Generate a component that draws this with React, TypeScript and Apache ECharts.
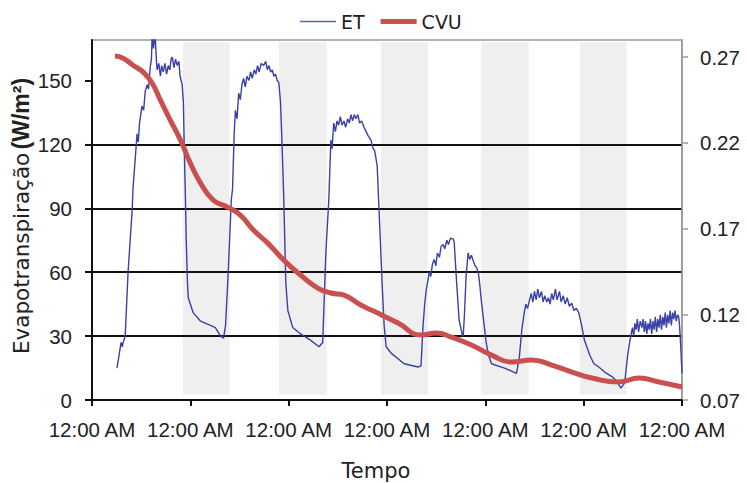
import React, { useEffect, useRef } from "react";
import * as echarts from "echarts";

// X axis in hours since the first midnight
const xTickLabel = "12:00 AM";
const leftTicks = [0, 30, 60, 90, 120, 150];
const rightTicks = [0.07, 0.12, 0.17, 0.22, 0.27];

// shaded (gray) bands, in hours
const shadedBands: [number, number][] = [
  [22.2, 33.6],
  [45.6, 57.3],
  [70.5, 82.0],
  [95.0, 106.6],
  [119.1, 130.5],
];

// ET (W/m²) — [hour, value]
const etPoints: [number, number][] = [
  [6.1, 15], [7.1, 27], [7.4, 25], [7.6, 27], [8.1, 30], [8.8, 60], [9.8, 89], [10.0, 99], [10.5, 112],
  [11.0, 125], [11.3, 121], [11.6, 130], [12.2, 138], [12.6, 136], [13.0, 145], [13.5, 148], [13.8, 146],
  [14.2, 156], [14.5, 160], [14.7, 172], [15.0, 165], [15.4, 172], [15.7, 160], [15.9, 155], [16.3, 158],
  [16.7, 152], [17.0, 157], [17.4, 154], [17.8, 158], [18.2, 153], [18.6, 157], [19.0, 155], [19.3, 160],
  [19.6, 161], [20.0, 156], [20.4, 160], [20.8, 157], [21.2, 159], [21.5, 152], [22.0, 148], [22.3, 140],
  [22.5, 120], [22.8, 95], [23.0, 75], [23.3, 55], [23.5, 48], [24.7, 41], [26.5, 37], [28.9, 35],
  [30.1, 34], [31.4, 30], [32.1, 29], [32.6, 35], [33.3, 62], [34.0, 94], [34.3, 99], [34.7, 125],
  [35.0, 136], [35.4, 132], [35.8, 144], [36.2, 141], [36.6, 148], [37.0, 151], [37.4, 147], [37.8, 152],
  [38.3, 150], [38.7, 154], [39.1, 151], [39.6, 155], [40.0, 153], [40.4, 157], [40.8, 154], [41.3, 158],
  [41.9, 157], [42.4, 159], [42.8, 155], [43.2, 157], [43.6, 154], [44.0, 155], [44.4, 152], [44.8, 153],
  [45.2, 150], [45.6, 149], [46.0, 140], [46.3, 125], [46.8, 95], [47.3, 55], [47.8, 42], [49.0, 34],
  [50.9, 31], [53.4, 28], [55.4, 25], [56.3, 27], [57.1, 70], [57.8, 94], [58.3, 122], [58.6, 118],
  [59.0, 130], [59.4, 126], [59.8, 131], [60.2, 129], [60.6, 133], [61.0, 129], [61.5, 131], [61.9, 128],
  [62.4, 132], [62.8, 130], [63.2, 134], [63.6, 131], [64.0, 134], [64.4, 132], [64.9, 134], [65.3, 130],
  [65.8, 131], [66.4, 128], [66.9, 126], [67.4, 124], [68.1, 122], [68.6, 118], [69.0, 117], [69.6, 110],
  [70.0, 92], [70.8, 55], [71.3, 35], [71.8, 25], [73.0, 22], [76.2, 17], [79.6, 15.5], [80.3, 16],
  [80.8, 35], [81.2, 45], [81.6, 52], [82.0, 56], [82.3, 60], [82.7, 58], [83.1, 64], [83.5, 66],
  [83.9, 63], [84.3, 69], [84.8, 67], [85.2, 72], [85.7, 73], [86.1, 71], [86.6, 75], [87.0, 73],
  [87.5, 76], [88.2, 75.5], [88.4, 74], [89.0, 55], [89.6, 37.5], [90.4, 30.5], [90.6, 30], [90.9, 40],
  [91.3, 58], [91.8, 69], [92.2, 66], [92.6, 68], [93.1, 65], [93.5, 63], [93.9, 62], [94.3, 59.6],
  [94.6, 55], [95.0, 47], [95.6, 37], [96.2, 27], [96.8, 21], [97.5, 17], [100.7, 15], [103.6, 12.5],
  [104.3, 20], [104.9, 33], [105.5, 41], [105.9, 45], [106.3, 43], [106.8, 47], [107.2, 50], [107.6, 46],
  [108.0, 51], [108.4, 47], [108.8, 52], [109.2, 48], [109.7, 51], [110.1, 46], [110.5, 49], [111.0, 46],
  [111.4, 48], [111.8, 45], [112.2, 50], [112.6, 47], [113.1, 52], [113.5, 47], [114.1, 51], [114.5, 46],
  [115.0, 49], [115.5, 45], [116.0, 48], [116.5, 44], [117.1, 45.5], [117.6, 42], [118.2, 43], [118.8, 41],
  [119.5, 35], [120.2, 28], [121.5, 21], [122.5, 17], [123.7, 15.5], [125.2, 13], [126.9, 11], [128.0, 9],
  [129.1, 5.6], [130.0, 8], [130.4, 15], [130.8, 22], [131.3, 28], [131.6, 31], [131.9, 34], [132.2, 30],
  [132.5, 36], [132.8, 33], [133.1, 38], [133.4, 32], [133.8, 37], [134.2, 34], [134.5, 38], [134.8, 32],
  [135.1, 37], [135.4, 31], [135.7, 36], [136.0, 33], [136.3, 38], [136.6, 31], [136.9, 37], [137.2, 33],
  [137.5, 39], [137.8, 32], [138.1, 38], [138.4, 34], [138.7, 40], [139.0, 33], [139.3, 39], [139.6, 35],
  [139.9, 41], [140.2, 34], [140.5, 40], [140.8, 36], [141.1, 42], [141.4, 35], [141.7, 41], [142.0, 38],
  [142.3, 42], [142.6, 37], [142.9, 40], [143.2, 39], [143.4, 35], [143.7, 25], [144.0, 12.5],
];

// CVU — [hour, value]
const cvuPoints: [number, number][] = [
  [5.6, 0.2706], [7.6, 0.2694], [10.0, 0.2653], [12.5, 0.2613], [14.7, 0.2548], [16.7, 0.2449],
  [19.1, 0.2333], [21.6, 0.2216], [24.0, 0.2082], [26.5, 0.1965], [29.6, 0.1866], [33.1, 0.1825],
  [36.2, 0.1779], [39.4, 0.1691], [42.9, 0.1615], [46.8, 0.1516], [50.9, 0.1429], [55.1, 0.1353],
  [58.3, 0.1324], [61.5, 0.1312], [65.6, 0.1254], [68.6, 0.122], [74.7, 0.1149], [80.3, 0.1079],
  [84.0, 0.1091], [87.7, 0.1067], [92.6, 0.1021], [97.5, 0.0962], [102.4, 0.0922], [107.3, 0.0933],
  [112.2, 0.0904], [117.1, 0.0863], [122.0, 0.0828], [128.6, 0.0805], [133.5, 0.0828], [138.4, 0.0805],
  [144.0, 0.0776],
];

export default function App() {
  const ref = useRef<HTMLDivElement>(null);
  useEffect(() => {
    const chart = echarts.init(ref.current!, null, { renderer: "svg" });
    const labelFont = "'Liberation Sans', Arial, sans-serif";
    const dejavu = "'DejaVu Sans', sans-serif";
    chart.setOption({
      animation: false,
      backgroundColor: "#ffffff",
      grid: {
        left: 92,
        right: 65,
        top: 40,
        bottom: 83,
        show: true,
        borderColor: "#9a9a9a",
        borderWidth: 1.5,
      },
      legend: {
        left: 295,
        top: 7,
        itemWidth: 36,
        itemHeight: 14,
        itemGap: 16,
        textStyle: { fontFamily: dejavu, fontSize: 19, color: "#222" },
        data: [
          { name: "ET", icon: "path://M0,0 L36,0 L36,1.4 L0,1.4 Z" },
          { name: "CVU", icon: "path://M0,0 L36,0 L36,5 L0,5 Z" },
        ],
      },
      xAxis: {
        type: "value",
        min: 0,
        max: 144,
        interval: 24,
        axisLine: { lineStyle: { color: "#111", width: 2 } },
        axisTick: { length: 6, lineStyle: { color: "#111", width: 2 } },
        axisLabel: {
          formatter: () => xTickLabel,
          fontFamily: labelFont,
          fontSize: 20.5,
          color: "#222",
          margin: 19,
        },
        splitLine: { show: false },
      },
      yAxis: [
        {
          type: "value",
          min: 0,
          max: 169,
          interval: 30,
          position: "left",
          axisLine: { show: true, lineStyle: { color: "#111", width: 2 } },
          axisTick: { show: true, customValues: leftTicks, length: 7, lineStyle: { color: "#111", width: 2 } },
          axisLabel: { customValues: leftTicks, fontFamily: labelFont, fontSize: 20.5, color: "#222", margin: 20 },
          splitLine: { show: true, showMaxLine: false, lineStyle: { color: "#111", width: 2 } },
        },
        {
          type: "value",
          min: 0.07,
          max: 0.28,
          position: "right",
          axisLine: { show: true, lineStyle: { color: "#9a9a9a", width: 1.5 } },
          axisTick: { show: true, customValues: rightTicks, length: 6, lineStyle: { color: "#9a9a9a", width: 1.5 } },
          axisLabel: {
            customValues: rightTicks,
            formatter: (v: number) => v.toFixed(2),
            fontFamily: labelFont,
            fontSize: 20.5,
            color: "#222",
            margin: 18,
          },
          splitLine: { show: false },
        },
      ],
      graphic: [
        {
          type: "text",
          x: 21,
          y: 216,
          rotation: Math.PI / 2,
          style: {
            text: "{a|Evapotranspiração} {b|(W/m²)}",
            align: "center",
            verticalAlign: "middle",
            rich: {
              a: { fontFamily: dejavu, fontSize: 21.5, fill: "#222" },
              b: { fontFamily: labelFont, fontWeight: "bold", fontSize: 23, fill: "#222" },
            },
          },
        },
        {
          type: "text",
          x: 376,
          y: 471,
          style: {
            text: "Tempo",
            align: "center",
            verticalAlign: "middle",
            fontFamily: dejavu,
            fontSize: 21,
            fill: "#222",
          },
        },
      ],
      series: [
        {
          name: "ET",
          type: "line",
          yAxisIndex: 0,
          data: etPoints,
          showSymbol: false,
          symbol: "none",
          lineStyle: { color: "#3a40a6", width: 1.4 },
          itemStyle: { color: "#5a60b8" },
          z: 3,
          markArea: {
            silent: true,
            itemStyle: { color: "#efefef" },
            data: shadedBands.map(([a, b]) => [
              { xAxis: a, yAxis: 2.5 },
              { xAxis: b, yAxis: 168 },
            ]),
            z: -1,
          },
        },
        {
          name: "CVU",
          type: "line",
          yAxisIndex: 1,
          data: cvuPoints,
          smooth: true,
          showSymbol: false,
          symbol: "none",
          lineStyle: { color: "#c9504e", width: 5 },
          itemStyle: { color: "#c9504e" },
          z: 4,
        },
      ],
    });
    return () => chart.dispose();
  }, []);
  return (
    <div
      ref={ref}
      style={{ position: "fixed", left: 0, top: 0, width: 747, height: 483, background: "#fff" }}
    />
  );
}
